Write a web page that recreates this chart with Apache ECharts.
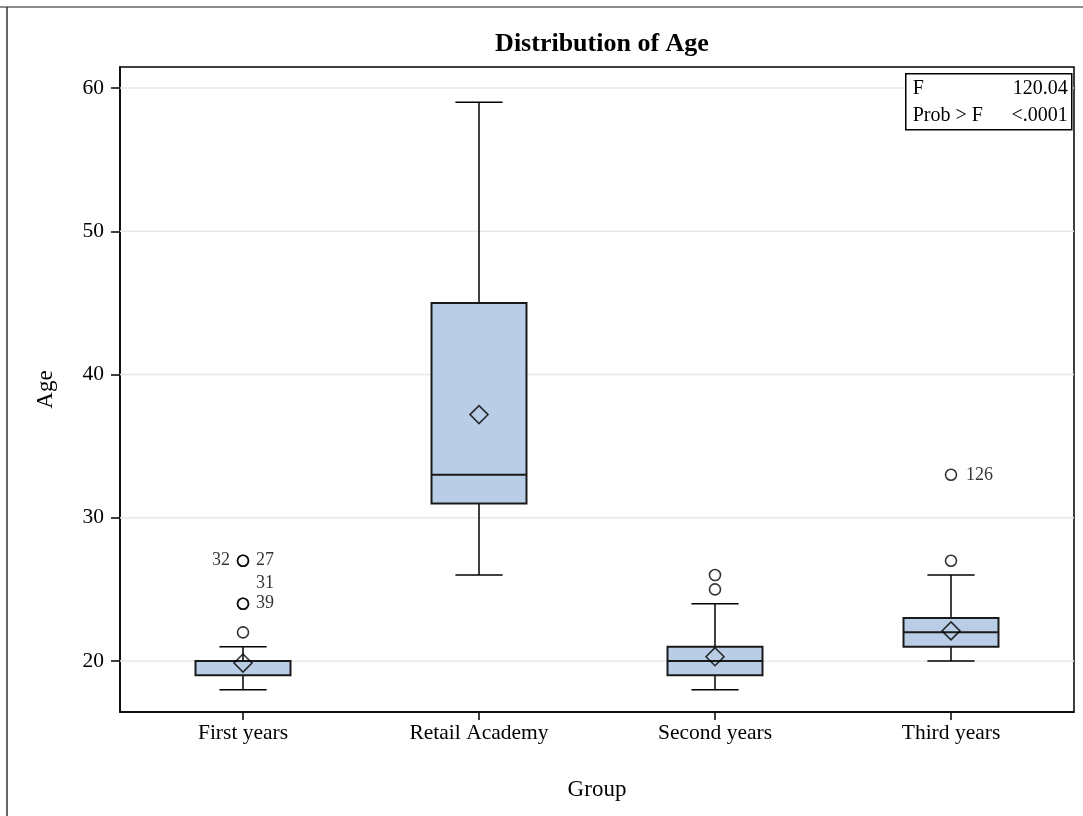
<!DOCTYPE html>
<html>
<head>
<meta charset="utf-8">
<script src="https://cdn.jsdelivr.net/npm/echarts@6/dist/echarts.min.js"></script>
<style>
html,body{margin:0;padding:0;background:#fff;}
#chart{width:1083px;height:816px;}
</style>
</head>
<body>
<div id="chart"></div>
<script>
// ---- data ----
const groups = ['First years', 'Retail Academy', 'Second years', 'Third years'];
const whiskerLow = [18, 26, 18, 20];
const q1 = [19, 31, 19, 21];
const median = [20, 33, 20, 22];
const q3 = [20, 45, 21, 23];
const whiskerHigh = [21, 59, 24, 26];
const means = [19.86, 37.2, 20.3, 22.1];
const outlierGroup = [0, 0, 0, 0, 0, 2, 2, 3, 3];
const outlierValue = [22, 24, 24, 27, 27, 25, 26, 27, 33];
const outlierLabelGroup = [0, 0, 0, 0, 3];
const outlierLabelValue = [27, 27, 25.45, 24, 33];
const outlierLabelText = ['32', '27', '31', '39', '126'];
const outlierLabelSide = ['left', 'right', 'right', 'right', 'right'];
const yTicks = [20, 30, 40, 50, 60];
const xTicks = [0, 1, 2, 3];
const statNames = ['F', 'Prob > F'];
const statValues = ['120.04', '<.0001'];

// ---- styles ----
const FONT = "'Liberation Serif', 'Times New Roman', serif";
const BOX_W = 0.4025;
const CAP_W = 0.2;
const BOX_FILL = '#b9cde6';

const boxData = groups.map((g, i) => [i, whiskerLow[i], q1[i], median[i], q3[i], whiskerHigh[i]]);

function renderBox(params, api) {
  const x = api.value(0);
  const pLo = api.coord([x, api.value(1)]);
  const pQ1 = api.coord([x, api.value(2)]);
  const pMed = api.coord([x, api.value(3)]);
  const pQ3 = api.coord([x, api.value(4)]);
  const pHi = api.coord([x, api.value(5)]);
  const hb = api.size([BOX_W / 2, 0])[0];
  const hc = api.size([CAP_W / 2, 0])[0];
  const cx = pLo[0];
  const lineStyle = { stroke: '#000', lineWidth: 1.5 };
  return {
    type: 'group',
    children: [
      { type: 'line', shape: { x1: cx, y1: pLo[1], x2: cx, y2: pQ1[1] }, style: lineStyle },
      { type: 'line', shape: { x1: cx, y1: pQ3[1], x2: cx, y2: pHi[1] }, style: lineStyle },
      { type: 'line', shape: { x1: cx - hc, y1: pLo[1], x2: cx + hc, y2: pLo[1] }, style: lineStyle },
      { type: 'line', shape: { x1: cx - hc, y1: pHi[1], x2: cx + hc, y2: pHi[1] }, style: lineStyle },
      { type: 'rect', shape: { x: cx - hb, y: pQ3[1], width: 2 * hb, height: pQ1[1] - pQ3[1] },
        style: { fill: BOX_FILL, stroke: '#1a1a1a', lineWidth: 2 } },
      { type: 'line', shape: { x1: cx - hb, y1: pMed[1], x2: cx + hb, y2: pMed[1] },
        style: { stroke: '#1a1a1a', lineWidth: 2 } }
    ]
  };
}

function renderGridLine(params, api) {
  const cs = params.coordSys;
  const p = api.coord([0, api.value(0)]);
  return {
    type: 'line',
    shape: { x1: cs.x, y1: p[1], x2: cs.x + cs.width, y2: p[1] },
    style: { stroke: '#e8e8e8', lineWidth: 1.5 }
  };
}

const chart = echarts.init(document.getElementById('chart'), null, { renderer: 'canvas' });

const option = {
  backgroundColor: '#fff',
  animation: false,
  textStyle: { fontFamily: FONT },
  title: {
    text: 'Distribution of Age',
    left: 597,
    top: 26,
    textAlign: 'center',
    textStyle: { fontFamily: FONT, fontWeight: 'bold', fontSize: 26, color: '#000' }
  },
  grid: {
    left: 120, top: 67, right: 9, bottom: 104,
    show: true, borderColor: '#000', borderWidth: 1.5, backgroundColor: 'transparent'
  },
  xAxis: {
    type: 'value',
    min: -0.5212, max: 3.5212,
    name: 'Group',
    nameLocation: 'middle',
    nameGap: 66,
    nameTextStyle: { fontFamily: FONT, fontSize: 23, color: '#000' },
    axisLine: { onZero: false, lineStyle: { color: '#000', width: 1.5 } },
    axisTick: { customValues: xTicks, length: 8, lineStyle: { color: '#000', width: 1.5 } },
    axisLabel: {
      customValues: xTicks, margin: 10, fontFamily: FONT, fontSize: 21.5, color: '#000',
      formatter: v => groups[Math.round(v)]
    },
    splitLine: { show: false }
  },
  yAxis: {
    type: 'value',
    min: 16.44, max: 61.466,
    name: 'Age',
    nameLocation: 'middle',
    nameGap: 63,
    nameTextStyle: { fontFamily: FONT, fontSize: 23, color: '#000' },
    axisLine: { onZero: false, lineStyle: { color: '#000', width: 1.5 } },
    axisTick: { customValues: yTicks, length: 9, lineStyle: { color: '#000', width: 1.5 } },
    axisLabel: { customValues: yTicks, margin: 16, fontFamily: FONT, fontSize: 21.5, color: '#000' },
    splitLine: { show: false }
  },
  series: [
    {
      type: 'custom', name: 'Grid', z: 1, silent: true,
      renderItem: renderGridLine,
      encode: { y: 0 },
      data: yTicks.map(v => [v])
    },
    {
      type: 'custom', name: 'Age', z: 3,
      renderItem: renderBox,
      encode: { x: 0, y: [1, 2, 3, 4, 5] },
      data: boxData
    },
    {
      type: 'scatter', name: 'Mean', z: 5,
      symbol: 'diamond', symbolSize: 18,
      itemStyle: { color: 'rgba(0,0,0,0)', borderColor: '#000', borderWidth: 1.6 },
      data: means.map((m, i) => [i, m])
    },
    {
      type: 'scatter', name: 'Outliers', z: 5,
      symbol: 'circle', symbolSize: 11,
      itemStyle: { color: 'rgba(0,0,0,0)', borderColor: '#000', borderWidth: 1.6 },
      data: outlierValue.map((v, i) => [outlierGroup[i], v])
    },
    {
      type: 'scatter', name: 'Labels', z: 6, symbolSize: 0, silent: true,
      data: outlierLabelText.map((t, i) => ({
        value: [outlierLabelGroup[i], outlierLabelValue[i]],
        label: {
          show: true, formatter: t, position: outlierLabelSide[i],
          distance: t === '126' ? 15 : 13,
          fontFamily: FONT, fontSize: 18, color: '#000'
        }
      }))
    }
  ],
  graphic: [
    { type: 'line', z: 100, shape: { x1: 0, y1: 7, x2: 1083, y2: 7 }, style: { stroke: '#8c8c8c', lineWidth: 2 } },
    { type: 'line', z: 100, shape: { x1: 7, y1: 7, x2: 7, y2: 816 }, style: { stroke: '#333', lineWidth: 1.5 } },
    {
      type: 'group', left: 905, top: 73, z: 100,
      children: [
        { type: 'rect', z: 100, shape: { x: 0, y: 0, width: 166, height: 56 }, style: { fill: '#fff', stroke: '#000', lineWidth: 1.5 } },
        { type: 'text', z: 101, x: 7, y: 15, style: { text: statNames[0], font: "20px 'Liberation Serif', serif", fill: '#000', textVerticalAlign: 'middle' } },
        { type: 'text', z: 101, x: 162, y: 15, style: { text: statValues[0], font: "20px 'Liberation Serif', serif", fill: '#000', textAlign: 'right', textVerticalAlign: 'middle' } },
        { type: 'text', z: 101, x: 7, y: 42, style: { text: statNames[1], font: "20px 'Liberation Serif', serif", fill: '#000', textVerticalAlign: 'middle' } },
        { type: 'text', z: 101, x: 162, y: 42, style: { text: statValues[1], font: "20px 'Liberation Serif', serif", fill: '#000', textAlign: 'right', textVerticalAlign: 'middle' } }
      ]
    }
  ]
};
chart.setOption(option);
</script>
</body>
</html>
